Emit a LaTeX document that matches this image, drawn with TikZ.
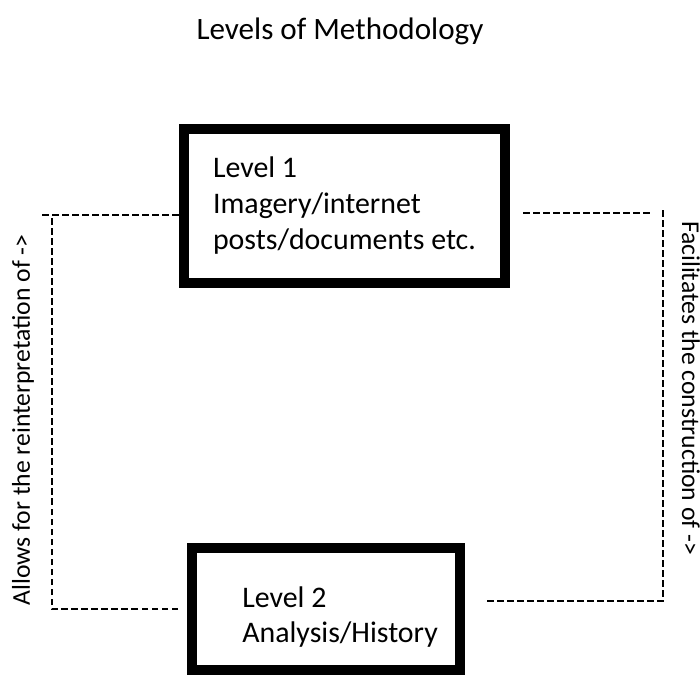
\documentclass[tikz,border=0pt]{standalone}
\usepackage{fontspec}
\setmainfont{Carlito}
\usepackage{tikz}
\usetikzlibrary{positioning, calc}

\begin{document}
\begin{tikzpicture}[
    levelbox/.style={rectangle, draw, line width=0.2cm, align=left, font=\fontsize{17}{20.5}\selectfont},
    lvltext/.style={align=left, inner sep=0pt, font=\fontsize{17}{20}\selectfont},
    link/.style={draw, line width=0.85pt, dash pattern=on 0.13cm off 0.07cm},
    sidelabel/.style={font=\fontsize{14.6}{17}\selectfont}
]
\useasboundingbox (0,0) rectangle (14,-13.5);

% Title
\node[font=\fontsize{17.7}{21}\selectfont] (title) at (6.8,-0.62) {Levels of Methodology};

% Level boxes
\node[levelbox, minimum width=6.42cm, minimum height=3.08cm] (box1) at (6.89,-4.12) {Level 1\\Imagery/internet\\posts/documents etc.};
\node[levelbox, minimum width=5.36cm, minimum height=2.44cm] (box2) at (6.52,-12.18) {};
\node[lvltext, anchor=north west] (lvl2) at (4.84,-11.72) {Level 2\\Analysis/History};

% Left loop
\coordinate (lefttop) at (1.04,-4.30);
\coordinate (leftbot) at (1.04,-12.18);
\draw[link] ([xshift=-0.18cm]box2.west) -- (leftbot) -- (lefttop);
\draw[link] ([xshift=-0.2cm]lefttop) -- (box1.west |- lefttop);
\node[sidelabel, rotate=90] (allows) at (0.46,-8.4) {Allows for the reinterpretation of ->};

% Right loop
\coordinate (righttop) at (13.26,-4.26);
\coordinate (rightbot) at (13.26,-12.02);
\draw[link] ([xshift=0.26cm]box1.east |- righttop) -- ([xshift=-0.26cm]righttop);
\draw[link] ([yshift=0.06cm]righttop) -- (rightbot) -- ([xshift=0.4cm]box2.east |- rightbot);
\node[sidelabel, rotate=-90] (facil) at (13.82,-7.76) {Facilitates the construction of ->};

\end{tikzpicture}
\end{document}
